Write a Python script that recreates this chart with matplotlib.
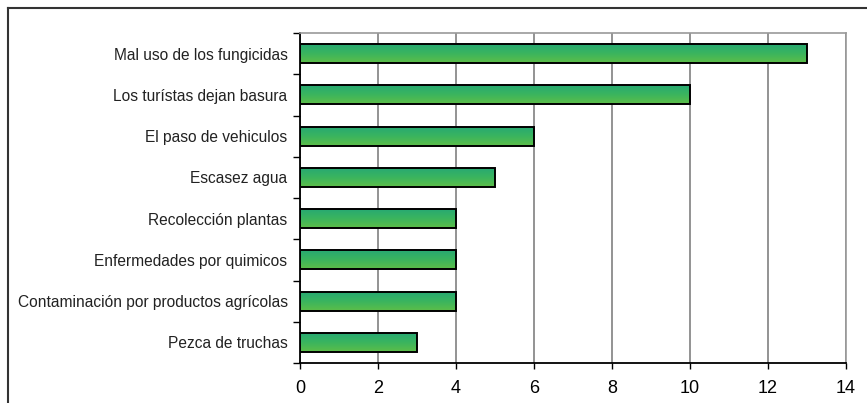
import numpy as np
import matplotlib
matplotlib.use("Agg")
import matplotlib.pyplot as plt
from matplotlib.colors import LinearSegmentedColormap
from matplotlib.lines import Line2D

categories = [
    "Mal uso de los fungicidas",
    "Los turístas dejan basura",
    "El paso de vehiculos",
    "Escasez agua",
    "Recolección plantas",
    "Enfermedades por quimicos",
    "Contaminación por productos agrícolas",
    "Pezca de truchas",
]
values = [13, 10, 6, 5, 4, 4, 4, 3]
xticks = [0, 2, 4, 6, 8, 10, 12, 14]

plt.rcParams['font.family'] = ['Liberation Sans', 'DejaVu Sans']

fig = plt.figure(figsize=(8.67, 4.03), dpi=100)
ax = fig.add_axes([300/867, 40/403, 546/867, 330/403])

n = len(categories)
pos = np.arange(n)[::-1]
bars = ax.barh(pos, values, height=0.46, facecolor='none', edgecolor='black',
               linewidth=1.4, zorder=3)

cmap = LinearSegmentedColormap.from_list('g', ['#5dbd48', '#3bb55e', '#28a972'])
grad = np.linspace(0, 1, 64).reshape(-1, 1)
for b in bars:
    x0, y0 = b.get_x(), b.get_y()
    w, h = b.get_width(), b.get_height()
    ax.imshow(grad, cmap=cmap, aspect='auto', origin='lower',
              extent=(x0, x0 + w, y0, y0 + h), zorder=2, interpolation='bilinear')

ax.set_xlim(0, 14)
ax.set_ylim(-0.5, n - 0.5)
ax.set_xticks(xticks)
ax.set_xticklabels([str(t) for t in xticks], fontsize=13, color='#222222')
ax.tick_params(axis='x', length=4, width=1, direction='out', pad=8, colors='black')
ax.set_yticks(pos)
ax.set_yticklabels(categories, fontsize=11.2, color='#222222')
ax.tick_params(axis='y', which='major', length=0, pad=9)
ax.set_yticks(np.arange(-0.5, n, 1.0), minor=True)
ax.tick_params(axis='y', which='minor', length=5, width=1, direction='out')

ax.xaxis.grid(True, color='#808080', linewidth=1.2, zorder=0)
ax.set_axisbelow(True)
for s in ['top', 'right']:
    ax.spines[s].set_color('#999999')
    ax.spines[s].set_linewidth(1.2)
for s in ['left', 'bottom']:
    ax.spines[s].set_color('black')
    ax.spines[s].set_linewidth(1.3)

# outer chart frame (cropped)
fig.add_artist(Line2D([8/867, 1.0], [395/403, 395/403], transform=fig.transFigure,
                      color='#333333', linewidth=1.5))
fig.add_artist(Line2D([8/867, 8/867], [0, 395/403], transform=fig.transFigure,
                      color='#333333', linewidth=1.5))

fig.savefig('out.png', dpi=100)
